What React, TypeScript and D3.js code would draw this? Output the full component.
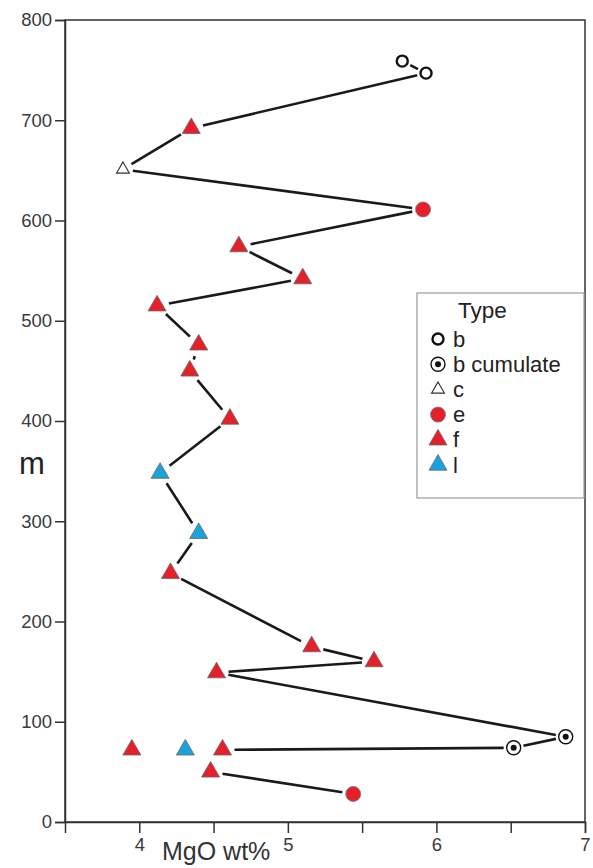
import React, { useEffect, useRef } from "react";
import * as d3 from "d3";

// MgO (wt%) against height (m)
const mgoWt = [5.77, 5.93, 4.35, 3.89, 5.91, 4.67, 5.1, 4.12, 4.4, 4.34, 4.61, 4.14, 4.4, 4.21, 5.16, 5.58, 4.52, 6.87, 6.52, 4.56, 3.95, 4.31, 4.48, 5.44];
const heightM = [759, 747, 692, 651, 611, 574, 542, 515, 476, 450, 402, 348, 288, 248, 175, 160, 149, 85, 74, 72, 72, 72, 50, 28];
const rockType = ["b", "b", "f", "c", "e", "f", "f", "f", "f", "f", "f", "l", "l", "f", "f", "f", "f", "bc", "bc", "f", "f", "l", "f", "e"];
// which line each sample sits on (0 = not joined)
const lineGroup = [1, 1, 1, 1, 1, 1, 1, 1, 1, 1, 1, 1, 1, 1, 1, 1, 1, 1, 1, 1, 0, 0, 2, 2];

const legendKeys = ["b", "bc", "c", "e", "f", "l"];
const legendLabels = ["b", "b cumulate", "c", "e", "f", "l"];

const xTicks = [4, 4.5, 5, 5.5, 6, 6.5, 7];
const yTicks = [0, 100, 200, 300, 400, 500, 600, 700, 800];

const W = 593;
const H = 868;
const margin = { left: 65, right: 8, top: 20, bottom: 46 };
const FONT = "'Liberation Sans', Arial, sans-serif";
const RED = "#e5202a";
const BLUE = "#1ba1dc";

const gapFor = (t) => ({ b: 9, bc: 10, c: 10, e: 11, f: 12, l: 12 }[t]);

const drawMarker = (g, t) => {
  if (t === "b") {
    g.append("circle").attr("r", 5.5).attr("fill", "#fff").attr("stroke", "#111").attr("stroke-width", 2.4);
  } else if (t === "bc") {
    g.append("circle").attr("r", 7).attr("fill", "#fff").attr("stroke", "#111").attr("stroke-width", 1.4);
    g.append("circle").attr("r", 3).attr("fill", "#111");
  } else if (t === "c") {
    g.append("path")
      .attr("d", d3.symbol(d3.symbolTriangle, 70)())
      .attr("fill", "#fff")
      .attr("stroke", "#333")
      .attr("stroke-width", 1.2);
  } else if (t === "e") {
    g.append("circle").attr("r", 7.5).attr("fill", RED).attr("stroke", "#777").attr("stroke-width", 0.8);
  } else {
    g.append("path")
      .attr("d", d3.symbol(d3.symbolTriangle, 140)())
      .attr("fill", t === "l" ? BLUE : RED)
      .attr("stroke", "#666")
      .attr("stroke-width", 0.8);
  }
};

const App = () => {
  const ref = useRef(null);

  useEffect(() => {
    const svg = d3.select(ref.current);
    svg.selectAll("*").remove();

    const x = d3.scaleLinear().domain([3.5, 7]).range([margin.left, W - margin.right]);
    const y = d3.scaleLinear().domain([0, 800]).range([H - margin.bottom, margin.top]);

    const pts = mgoWt.map((v, i) => ({
      px: x(v),
      py: y(heightM[i]),
      t: rockType[i],
      g: lineGroup[i],
    }));

    // frame
    svg
      .append("rect")
      .attr("x", x(3.5))
      .attr("y", y(800))
      .attr("width", x(7) - x(3.5))
      .attr("height", y(0) - y(800))
      .attr("fill", "none")
      .attr("stroke", "#333")
      .attr("stroke-width", 1.5);

    const xAxis = svg
      .append("g")
      .attr("transform", `translate(0,${y(0)})`)
      .call(
        d3
          .axisBottom(x)
          .tickValues(xTicks)
          .tickSize(11)
          .tickPadding(5)
          .tickFormat((d) => (Number.isInteger(d) ? d3.format("d")(d) : ""))
      );
    const yAxis = svg
      .append("g")
      .attr("transform", `translate(${x(3.5)},0)`)
      .call(d3.axisLeft(y).tickValues(yTicks).tickSize(10).tickPadding(3).tickFormat(d3.format("d")));

    [xAxis, yAxis].forEach((a) => {
      a.select(".domain").attr("stroke", "#333").attr("stroke-width", 1.5);
      a.selectAll(".tick line").attr("stroke", "#333").attr("stroke-width", 1.5);
      a.selectAll(".tick text").attr("fill", "#3a3a3a").style("font-family", FONT).style("font-size", "18.5px");
    });

    svg
      .append("text")
      .attr("x", 162)
      .attr("y", 860)
      .attr("fill", "#333")
      .style("font-family", FONT)
      .style("font-size", "25px")
      .text("MgO wt%");
    svg
      .append("text")
      .attr("x", 32)
      .attr("y", 474)
      .attr("text-anchor", "middle")
      .attr("fill", "#222")
      .style("font-family", FONT)
      .style("font-size", "31px")
      .text("m");

    // joining lines, stopped short of the markers
    const segs = [];
    for (let i = 0; i < pts.length - 1; i++) {
      const a = pts[i];
      const b = pts[i + 1];
      if (a.g === 0 || a.g !== b.g) continue;
      const dx = b.px - a.px;
      const dy = b.py - a.py;
      const len = Math.hypot(dx, dy);
      const ga = gapFor(a.t);
      const gb = gapFor(b.t);
      if (len <= ga + gb) continue;
      segs.push([
        [a.px + (dx * ga) / len, a.py + (dy * ga) / len],
        [b.px - (dx * gb) / len, b.py - (dy * gb) / len],
      ]);
    }
    svg
      .append("g")
      .selectAll("path")
      .data(segs)
      .join("path")
      .attr("d", (d) => d3.line()(d))
      .attr("stroke", "#1a1a1a")
      .attr("stroke-width", 2.6)
      .attr("fill", "none");

    const marks = svg
      .append("g")
      .selectAll("g")
      .data(pts)
      .join("g")
      .attr("transform", (d) => `translate(${d.px},${d.py})`);
    marks.each(function (d) {
      drawMarker(d3.select(this), d.t);
    });

    // legend
    const lg = svg.append("g").attr("transform", "translate(417,293)");
    lg.append("rect")
      .attr("width", 167)
      .attr("height", 205)
      .attr("fill", "#fff")
      .attr("stroke", "#999")
      .attr("stroke-width", 1.2);
    lg.append("text")
      .attr("x", 41)
      .attr("y", 25)
      .attr("fill", "#222")
      .style("font-family", FONT)
      .style("font-size", "22.5px")
      .text("Type");
    const rows = lg
      .selectAll("g.row")
      .data(legendKeys)
      .join("g")
      .attr("class", "row")
      .attr("transform", (d, i) => `translate(21,${46 + i * 25.2})`);
    rows.each(function (d) {
      drawMarker(d3.select(this), d);
    });
    rows
      .append("text")
      .attr("x", 15)
      .attr("y", 7.5)
      .attr("fill", "#222")
      .style("font-family", FONT)
      .style("font-size", "22px")
      .text((d, i) => legendLabels[i]);
  }, []);

  return (
    <div style={{ position: "absolute", left: 0, top: 0 }}>
      <svg ref={ref} width={W} height={H} style={{ display: "block", background: "#fff" }} />
    </div>
  );
};

export default App;
